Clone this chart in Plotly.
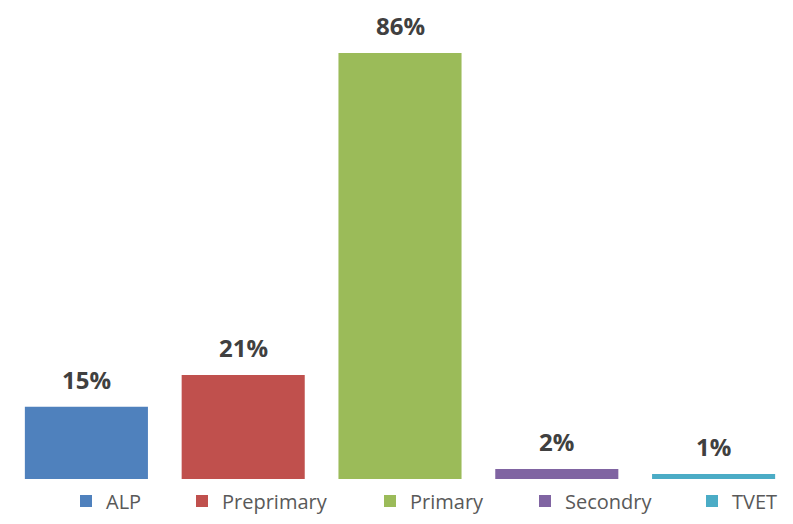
import plotly.graph_objects as go

categories = ["ALP", "Preprimary", "Primary", "Secondry", "TVET"]
values = [14.6, 21, 86, 2, 1]
labels = ["15%", "21%", "86%", "2%", "1%"]
colors = ["#4F81BD", "#C0504D", "#9BBB59", "#8064A2", "#4BACC6"]
legend_text_px = [106, 222, 410, 565, 732]

W, H = 793, 524
ML, MR, MT, MB = 8, 1, 0, 45
plot_w = W - ML - MR
plot_h = H - MT - MB

fig = go.Figure()
for i, (c, v, col) in enumerate(zip(categories, values, colors)):
    lg = "legend" if i == 0 else f"legend{i+1}"
    fig.add_trace(go.Bar(
        x=[c], y=[v], name=c, marker=dict(color=col, line=dict(width=0)),
        legend=lg, showlegend=True, hoverinfo="skip",
    ))
    fig.add_annotation(
        x=c, y=v, text=f"<b>{labels[i]}</b>", showarrow=False,
        yanchor="bottom", yshift=9,
        font=dict(family="Open Sans", size=24, color="#404040"),
    )

layout_legends = {}
for i, px in enumerate(legend_text_px):
    key = "legend" if i == 0 else f"legend{i+1}"
    layout_legends[key] = dict(
        orientation="h", x=(px - 40 - ML) / plot_w, xanchor="left",
        y=-22 / plot_h, yanchor="middle",
        font=dict(family="Open Sans", size=20, color="#595959"),
        bgcolor="rgba(0,0,0,0)", borderwidth=0,
    )

fig.update_layout(
    width=W, height=H,
    margin=dict(l=ML, r=MR, t=MT, b=MB, pad=0),
    paper_bgcolor="white", plot_bgcolor="white",
    barmode="overlay", bargap=0.215,
    xaxis=dict(type="category", categoryorder="array", categoryarray=categories,
               showticklabels=False, showgrid=False, zeroline=False, showline=False, ticks=""),
    yaxis=dict(range=[0, 96.7], visible=False),
    **layout_legends,
)

fig.write_html("out.html", config={"displayModeBar": False},
               post_script="document.body.style.margin='0';")
